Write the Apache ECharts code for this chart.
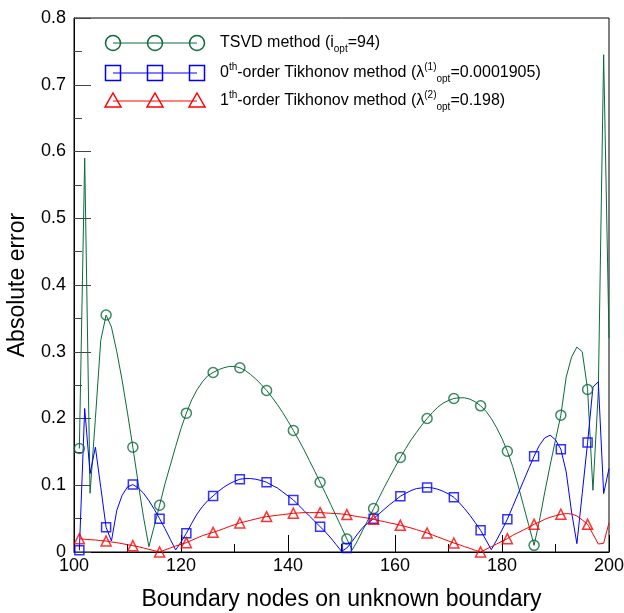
<!DOCTYPE html>
<html>
<head>
<meta charset="UTF-8">
<title>Absolute error</title>
<script src="https://cdn.jsdelivr.net/npm/echarts@6/dist/echarts.min.js"></script>
<style>
html, body { margin: 0; padding: 0; background: #fff; }
#main { width: 624px; height: 613px; }
</style>
</head>
<body>
<div id="main"></div>
<script>
// boundary node numbers 101..200
var nodes = [];
for (var n = 101; n <= 200; n++) nodes.push(n);

// TSVD method
var tsvd = [
  0.155, 0.590, 0.088, 0.200, 0.317, 0.355, 0.337, 0.300, 0.257, 0.208,
  0.157, 0.103, 0.052, 0.008, 0.039, 0.070, 0.102, 0.130, 0.158, 0.185,
  0.208, 0.228, 0.243, 0.255, 0.264, 0.269, 0.273, 0.276, 0.278, 0.278,
  0.276, 0.272, 0.266, 0.259, 0.251, 0.242, 0.232, 0.221, 0.209, 0.196,
  0.182, 0.168, 0.153, 0.137, 0.121, 0.1045, 0.088, 0.071, 0.054, 0.037,
  0.0195, 0.003, 0.017, 0.033, 0.049, 0.065, 0.081, 0.097, 0.112, 0.127,
  0.1415, 0.155, 0.168, 0.179, 0.190, 0.200, 0.209, 0.217, 0.223, 0.227,
  0.230, 0.231, 0.231, 0.229, 0.225, 0.219, 0.211, 0.200, 0.186, 0.170,
  0.151, 0.128, 0.100, 0.070, 0.040, 0.010, 0.047, 0.090, 0.130, 0.168,
  0.205, 0.262, 0.292, 0.307, 0.300, 0.2435, 0.0925, 0.240, 0.745, 0.320
];
// 0th-order Tikhonov
var tik0 = [
  0.0025, 0.215, 0.1175, 0.157, 0.097, 0.037, 0.0165, 0.0625, 0.085, 0.0975,
  0.101, 0.096, 0.088, 0.077, 0.064, 0.050, 0.035, 0.019, 0.003, 0.015,
  0.028, 0.043, 0.057, 0.068, 0.077, 0.084, 0.091, 0.097, 0.102, 0.106,
  0.109, 0.110, 0.110, 0.109, 0.107, 0.1045, 0.100, 0.096, 0.090, 0.084,
  0.078, 0.070, 0.062, 0.054, 0.046, 0.038, 0.030, 0.021, 0.011, 0.001,
  0.006, 0.016, 0.027, 0.037, 0.044, 0.050, 0.057, 0.064, 0.071, 0.077,
  0.0835, 0.088, 0.092, 0.095, 0.096, 0.0965, 0.096, 0.094, 0.091, 0.087,
  0.082, 0.074, 0.065, 0.055, 0.044, 0.0325, 0.018, 0.0035, 0.018, 0.033,
  0.049, 0.068, 0.087, 0.106, 0.125, 0.1435, 0.160, 0.171, 0.175, 0.168,
  0.154, 0.120, 0.060, 0.0125, 0.088, 0.164, 0.247, 0.255, 0.0875, 0.125
];
// 1th-order Tikhonov
var tik1 = [
  0.020, 0.019, 0.0185, 0.018, 0.017, 0.0165, 0.015, 0.014, 0.0125, 0.011,
  0.0095, 0.008, 0.006, 0.004, 0.002, 0.000, 0.003, 0.006, 0.009, 0.0115,
  0.014, 0.0175, 0.021, 0.0245, 0.027, 0.0295, 0.032, 0.035, 0.038, 0.041,
  0.0435, 0.0455, 0.0475, 0.0495, 0.0515, 0.053, 0.054, 0.055, 0.056, 0.057,
  0.058, 0.0585, 0.059, 0.059, 0.059, 0.059, 0.0585, 0.058, 0.0575, 0.057,
  0.056, 0.0545, 0.053, 0.052, 0.0505, 0.049, 0.047, 0.0455, 0.0435, 0.042,
  0.040, 0.038, 0.036, 0.0335, 0.031, 0.0285, 0.0255, 0.0225, 0.0195, 0.0165,
  0.0135, 0.011, 0.008, 0.0055, 0.0025, 0.000, 0.004, 0.008, 0.012, 0.016,
  0.020, 0.025, 0.029, 0.033, 0.037, 0.0415, 0.045, 0.049, 0.052, 0.0545,
  0.0565, 0.0575, 0.057, 0.054, 0.048, 0.0415, 0.027, 0.012, 0.013, 0.044
];

var markerStep = 5; // a symbol on every 5th node, starting at 101
var font = 'Liberation Sans, Arial, Helvetica, sans-serif';
var green = '#0b6b3a', blue = '#0000ff', red = '#ff0000';

function pairs(vals) {
  return nodes.map(function (x, i) { return [x, vals[i]]; });
}
function marks(vals) {
  return pairs(vals).filter(function (p, i) { return i % markerStep === 0; });
}

var chart = echarts.init(document.getElementById('main'));

// legend drawn by hand: three symbols on a line, like the original plot
var legendRows = [
  { y: 43, color: green, sym: 'circle',
    text: 'TSVD method (i{sub|opt}=94)' },
  { y: 73, color: blue, sym: 'rect',
    text: '0{sup|th}-order Tikhonov method (λ{sup|(1)}{sub|opt}=0.0001905)' },
  { y: 101, color: red, sym: 'triangle',
    text: '1{sup|th}-order Tikhonov method (λ{sup|(2)}{sub|opt}=0.198)' }
];
var legendXs = [113, 155, 197];
var graphics = [];
legendRows.forEach(function (r) {
  graphics.push({ type: 'line', shape: { x1: legendXs[0], y1: r.y, x2: legendXs[2], y2: r.y },
    style: { stroke: r.color, lineWidth: 1 } });
  legendXs.forEach(function (x) {
    var el;
    if (r.sym === 'circle') {
      el = { type: 'circle', shape: { cx: x, cy: r.y, r: 7.5 } };
    } else if (r.sym === 'rect') {
      el = { type: 'rect', shape: { x: x - 7.5, y: r.y - 7.5, width: 15, height: 15 } };
    } else {
      el = { type: 'polygon', shape: { points: [[x, r.y - 8], [x + 8, r.y + 6], [x - 8, r.y + 6]] } };
    }
    el.style = { fill: 'none', stroke: r.color, lineWidth: 1.5 };
    graphics.push(el);
  });
  graphics.push({
    type: 'text', x: 220, y: r.y,
    style: {
      text: r.text, fill: '#000', fontSize: 16, fontFamily: font,
      verticalAlign: 'middle', lineHeight: 22,
      rich: {
        sup: { fontSize: 10, fontFamily: font, fill: '#000', verticalAlign: 'top', lineHeight: 22 },
        sub: { fontSize: 10, fontFamily: font, fill: '#000', verticalAlign: 'bottom', lineHeight: 22 }
      }
    }
  });
});

var option = {
  animation: false,
  backgroundColor: '#fff',
  grid: { left: 74, right: 15, top: 18, bottom: 61, show: true, outerBoundsMode: 'none',
    borderColor: '#000', borderWidth: 1, backgroundColor: 'transparent' },
  xAxis: {
    type: 'value', min: 100, max: 200, interval: 20,
    name: 'Boundary nodes on unknown boundary', nameLocation: 'middle', nameGap: 36,
    nameTextStyle: { fontSize: 23, color: '#000', fontFamily: font },
    axisLine: { show: true, lineStyle: { color: '#000', width: 1 } },
    axisTick: { show: true, inside: true, length: 17, lineStyle: { color: '#000' } },
    minorTick: { show: true, splitNumber: 2, length: 8, lineStyle: { color: '#000' } },
    splitLine: { show: false },
    axisLabel: { color: '#000', fontSize: 18, margin: 5, fontFamily: font }
  },
  yAxis: {
    type: 'value', min: 0, max: 0.8, interval: 0.1,
    name: 'Absolute error', nameLocation: 'middle', nameGap: 45,
    nameTextStyle: { fontSize: 23, color: '#000', fontFamily: font },
    axisLine: { show: true, lineStyle: { color: '#000', width: 1 } },
    axisTick: { show: true, inside: true, length: 17, lineStyle: { color: '#444' } },
    minorTick: { show: true, splitNumber: 2, length: 8, lineStyle: { color: '#444' } },
    splitLine: { show: false },
    axisLabel: { color: '#000', fontSize: 18, margin: 8, fontFamily: font,
      formatter: function (v) { return v === 0 ? '0' : v.toFixed(1); } }
  },
  series: [
    { type: 'line', data: pairs(tsvd), symbol: 'none', lineStyle: { color: green, width: 1 }, z: 3 },
    { type: 'line', data: pairs(tik0), symbol: 'none', lineStyle: { color: blue, width: 1 }, z: 3 },
    { type: 'line', data: pairs(tik1), symbol: 'none', lineStyle: { color: red, width: 1 }, z: 3 },
    { type: 'scatter', data: marks(tsvd), symbol: 'circle', symbolSize: 10,
      itemStyle: { color: 'rgba(0,0,0,0)', borderColor: green, borderWidth: 1.5 }, z: 4 },
    { type: 'scatter', data: marks(tik0), symbol: 'rect', symbolSize: 9,
      itemStyle: { color: 'rgba(0,0,0,0)', borderColor: blue, borderWidth: 1.5 }, z: 4 },
    { type: 'scatter', data: marks(tik1), symbol: 'triangle', symbolSize: 10,
      itemStyle: { color: 'rgba(0,0,0,0)', borderColor: red, borderWidth: 1.5 }, z: 4 }
  ],
  graphic: graphics
};
chart.setOption(option);
</script>
</body>
</html>
